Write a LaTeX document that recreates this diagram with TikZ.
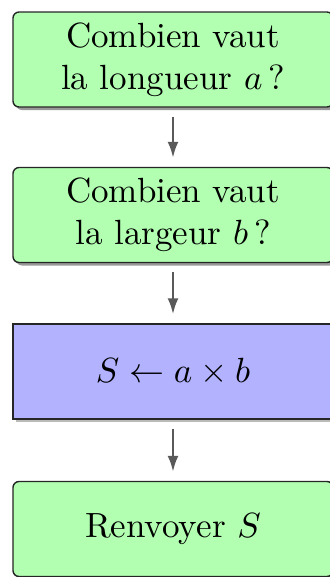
\documentclass[tikz,border=0pt]{standalone}
\usetikzlibrary{arrows.meta,shadows}
\def\u{0.2857pt}
\tikzset{
  box/.style={draw=black!85, line width=0.4pt, minimum width=320*\u, minimum height=95*\u,
    align=center, inner sep=0pt, font=\normalsize},
  greenbox/.style={box, fill=green!30, rounded corners=6*\u,
    drop shadow={shadow xshift=3*\u, shadow yshift=-3*\u, fill=black!40, opacity=1}},
  bluebox/.style={box, fill=blue!30,
    drop shadow={shadow xshift=3*\u, shadow yshift=-3*\u, fill=black!27, opacity=1}},
  flow/.style={draw=black!65, line width=0.7pt, -{Latex[length=16*\u, width=11*\u]},
    shorten <=9*\u, shorten >=9*\u}
}
\begin{document}
\begin{tikzpicture}[x=\u, y=-\u]
\useasboundingbox (0,0) rectangle (329,577);
\node[greenbox] (b1) at (173,59.5) {Combien vaut\\la longueur $a$\,?};
\node[greenbox] (b2) at (173,215) {Combien vaut\\la largeur $b$\,?};
\node[bluebox] (b3) at (173,371.5) {$S \leftarrow a \times b$};
\node[greenbox] (b4) at (173,529) {Renvoyer $S$};
\draw[flow] (b1) -- (b2);
\draw[flow] (b2) -- (b3);
\draw[flow] (b3) -- (b4);
\end{tikzpicture}
\end{document}
